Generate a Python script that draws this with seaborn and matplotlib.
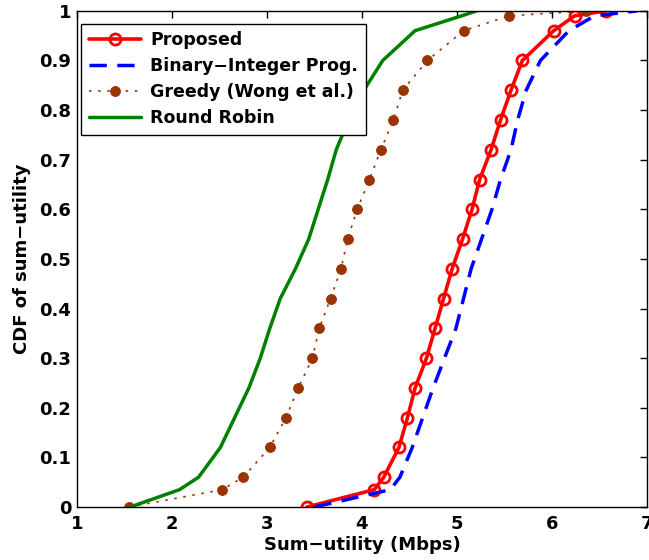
import numpy as np
import pandas as pd
import matplotlib
matplotlib.use("Agg")
import matplotlib.pyplot as plt
import seaborn as sns

# ---- data ----
cdf_levels = [0.0, 0.035, 0.06, 0.12, 0.18, 0.24, 0.30, 0.36, 0.42, 0.48,
              0.54, 0.60, 0.66, 0.72, 0.78, 0.84, 0.90, 0.96, 0.99, 1.0]

proposed_x = [3.42, 4.13, 4.23, 4.39, 4.48, 4.56, 4.68, 4.77, 4.86, 4.95,
              5.06, 5.16, 5.24, 5.36, 5.46, 5.57, 5.69, 6.02, 6.24, 6.57]
bip_x = [3.50, 4.30, 4.40, 4.53, 4.64, 4.75, 4.87, 4.99, 5.07, 5.15,
         5.26, 5.37, 5.46, 5.57, 5.64, 5.73, 5.88, 6.18, 6.45, 6.90]
greedy_x = [1.55, 2.53, 2.75, 3.03, 3.20, 3.33, 3.48, 3.55, 3.67, 3.78,
            3.85, 3.95, 4.08, 4.20, 4.33, 4.43, 4.69, 5.07, 5.55, 6.36]
rr_x = [1.56, 2.08, 2.28, 2.51, 2.66, 2.81, 2.93, 3.03, 3.14, 3.30,
        3.44, 3.54, 3.64, 3.73, 3.86, 4.02, 4.22, 4.56, 5.05, 5.21]

series_names = ["Proposed", "Binary\u2212Integer Prog.", "Greedy (Wong et al.)", "Round Robin"]
x_ticks = [1, 2, 3, 4, 5, 6, 7]
y_ticks = [0, 0.1, 0.2, 0.3, 0.4, 0.5, 0.6, 0.7, 0.8, 0.9, 1.0]
y_tick_labels = ["0", "0.1", "0.2", "0.3", "0.4", "0.5", "0.6", "0.7", "0.8", "0.9", "1"]

sns.set_theme(style="white")
plt.rcParams["font.family"] = ["DejaVu Sans"]
plt.rcParams["font.weight"] = "bold"
plt.rcParams["text.color"] = "black"
plt.rcParams["axes.labelcolor"] = "black"
plt.rcParams["xtick.color"] = "black"
plt.rcParams["ytick.color"] = "black"

fig = plt.figure(figsize=(6.49, 5.6), dpi=100)
ax = fig.add_axes([0.1186, 0.0946, 0.878, 0.886])

sns.lineplot(x=proposed_x, y=cdf_levels, ax=ax, estimator=None, sort=False,
             color="#ff0000", linewidth=2.6, marker="o", markersize=8,
             markerfacecolor="none", markeredgecolor="#ff0000", markeredgewidth=2.0,
             label=series_names[0])
sns.lineplot(x=bip_x, y=cdf_levels, ax=ax, estimator=None, sort=False,
             color="#0000ff", linewidth=2.5, dashes=False, label=series_names[1])
ax.lines[-1].set_dashes((5, 3))
sns.lineplot(x=greedy_x, y=cdf_levels, ax=ax, estimator=None, sort=False,
             color="#993300", linewidth=1.2, marker="o", markersize=7,
             markerfacecolor="#993300", markeredgecolor="#993300",
             label=series_names[2])
ax.lines[-1].set_dashes((1.5, 4))
sns.lineplot(x=rr_x, y=cdf_levels, ax=ax, estimator=None, sort=False,
             color="#008000", linewidth=2.5, label=series_names[3])

ax.set_xlim(1, 7)
ax.set_ylim(0, 1)
ax.set_xticks(x_ticks)
ax.set_xticklabels([str(t) for t in x_ticks])
ax.set_yticks(y_ticks)
ax.set_yticklabels(y_tick_labels)
ax.tick_params(direction="in", top=True, right=True, length=5, width=1,
               labelsize=13, colors="black")
ax.tick_params(axis="y", pad=4)
ax.tick_params(axis="x", pad=6)
for lab in ax.get_xticklabels() + ax.get_yticklabels():
    lab.set_fontweight("bold")
for sp in ax.spines.values():
    sp.set_color("black")
    sp.set_linewidth(1.0)

ax.set_xlabel("Sum\u2212utility (Mbps)", fontsize=13, fontweight="bold",
              labelpad=2, color="black")
ax.set_ylabel("CDF of sum\u2212utility", fontsize=13, fontweight="bold",
              labelpad=6, color="black")

leg = ax.legend(loc="upper left", bbox_to_anchor=(0.0, 0.983), fontsize=12.5,
                frameon=True, fancybox=False, framealpha=1, edgecolor="black",
                handlelength=3.0, handletextpad=0.5, borderpad=0.45, labelspacing=0.45,
                numpoints=1, borderaxespad=0.25)
leg.get_frame().set_linewidth(1.0)
for t in leg.get_texts():
    t.set_fontweight("bold")
    t.set_color("black")

fig.savefig("out.png", dpi=100)
